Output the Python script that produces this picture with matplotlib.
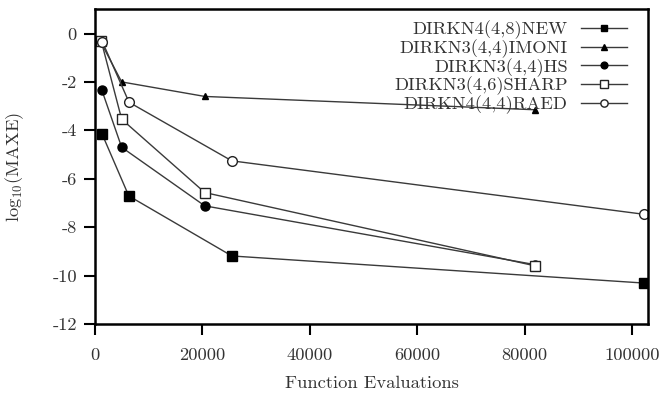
import matplotlib
matplotlib.use("Agg")
import matplotlib.pyplot as plt

plt.rcParams['font.family'] = ['cmr10', 'DejaVu Serif']
plt.rcParams['mathtext.fontset'] = 'cm'
plt.rcParams['axes.unicode_minus'] = False
plt.rcParams['axes.formatter.use_mathtext'] = False

labels = ["DIRKN4(4,8)NEW", "DIRKN3(4,4)IMONI", "DIRKN3(4,4)HS",
          "DIRKN3(4,6)SHARP", "DIRKN4(4,4)RAED"]

new_x = [1300, 6300, 25500, 102300]
new_y = [-4.14, -6.71, -9.19, -10.31]

imoni_x = [1100, 4970, 20450, 81950]
imoni_y = [-0.36, -2.0, -2.6, -3.15]

hs_x = [1250, 4970, 20450, 82000]
hs_y = [-2.32, -4.7, -7.12, -9.55]

sharp_x = [1180, 4970, 20450, 82000]
sharp_y = [-0.32, -3.54, -6.57, -9.6]

raed_x = [1380, 6340, 25480, 102300]
raed_y = [-0.34, -2.84, -5.26, -7.47]

xticks = [0, 20000, 40000, 60000, 80000, 100000]
yticks = [0, -2, -4, -6, -8, -10, -12]

fig = plt.figure(figsize=(6.66, 3.94), dpi=100)
ax = fig.add_axes([0.1426, 0.1777, 0.973 - 0.1426, 0.9764 - 0.1777])

lc = '#3a3a3a'
lw = 1.0
ax.plot(new_x, new_y, color=lc, lw=lw, marker='s', ms=6.5, mfc='black', mec='black', label=labels[0])
ax.plot(imoni_x, imoni_y, color=lc, lw=lw, marker='^', ms=5, mfc='black', mec='black', label=labels[1])
ax.plot(hs_x, hs_y, color=lc, lw=lw, marker='o', ms=6.5, mfc='black', mec='black', label=labels[2])
ax.plot(sharp_x, sharp_y, color=lc, lw=lw, marker='s', ms=7, mfc='white', mec='#222222', mew=1.0, label=labels[3])
ax.plot(raed_x, raed_y, color=lc, lw=lw, marker='o', ms=7, mfc='white', mec='#222222', mew=1.0, label=labels[4])

ax.set_xlim(0, 103000)
ax.set_ylim(-12, 1)
ax.set_xticks(xticks)
ax.set_xticklabels([str(t) for t in xticks])
ax.set_yticks(yticks)
ax.set_yticklabels([str(t) for t in yticks])

for s in ax.spines.values():
    s.set_linewidth(1.8)
    s.set_color('black')
ax.tick_params(direction='out', length=8, width=1.5, labelsize=13.3, colors='black',
               labelcolor='#333333', pad=5)
ax.tick_params(axis='x', pad=9)

ax.set_xlabel("Function Evaluations", fontsize=13.3, color='#333333', labelpad=9)
ax.set_ylabel(r"$\mathrm{log}_{10}$(MAXE)", fontsize=13.3, color='#333333')
ax.yaxis.set_label_coords(-0.124, 0.5)

leg = ax.legend(loc='upper right', frameon=False, markerfirst=False, fontsize=13.3,
                handlelength=2.5, labelspacing=0.0, borderaxespad=0.3, handletextpad=0.7,
                markerscale=0.75, bbox_to_anchor=(0.985, 1.005))
for t in leg.get_texts():
    t.set_color('#333333')

fig.savefig("out.png", dpi=100)
